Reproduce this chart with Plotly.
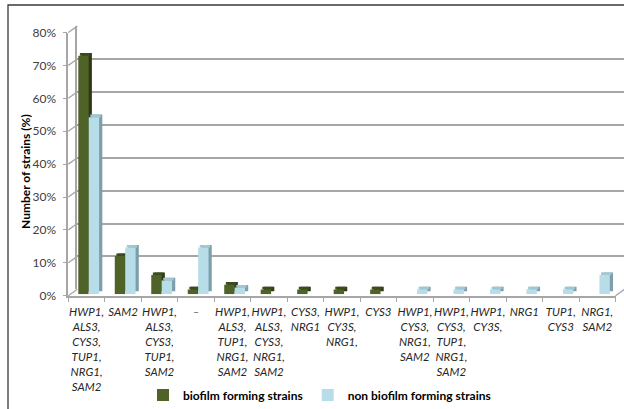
import plotly.graph_objects as go

# ---------------- data ----------------
categories = [
    "HWP1,<br>ALS3,<br>CYS3,<br>TUP1,<br>NRG1,<br>SAM2",
    "SAM2",
    "HWP1,<br>ALS3,<br>CYS3,<br>TUP1,<br>SAM2",
    "–",
    "HWP1,<br>ALS3,<br>TUP1,<br>NRG1,<br>SAM2",
    "HWP1,<br>ALS3,<br>CYS3,<br>NRG1,<br>SAM2",
    "CYS3,<br>NRG1",
    "HWP1,<br>CY3S,<br>NRG1,",
    "CYS3",
    "HWP1,<br>CYS3,<br>NRG1,<br>SAM2",
    "HWP1,<br>CYS3,<br>TUP1,<br>NRG1,<br>SAM2",
    "HWP1,<br>CY3S,",
    "NRG1",
    "TUP1,<br>CYS3",
    "NRG1,<br>SAM2",
]
biofilm = [72.5, 11.6, 5.8, 1.45, 2.9, 1.45, 1.45, 1.45, 1.45, 0, 0, 0, 0, 0, 0]
non_biofilm = [53.8, 14.2, 4.2, 14.2, 2.0, 0, 0, 0, 0, 1.5, 1.5, 1.5, 1.5, 1.5, 5.8]
y_ticks = [0, 10, 20, 30, 40, 50, 60, 70, 80]
y_ticktext = ["0%", "10%", "20%", "30%", "40%", "50%", "60%", "70%", "80%"]
series_names = ["biofilm forming strains", "non biofilm forming strains"]

# ---------------- styling / geometry (pixels) ----------------
W, H = 624, 409
FONT = "Lato"
GREEN, GREEN_TOP, GREEN_SIDE = "#4F6228", "#3D4C1E", "#2E3A15"
BLUE, BLUE_TOP, BLUE_SIDE = "#B7DEE8", "#A2C7D2", "#7E9FAA"
GRID = "#A6A6A6"

fx0, fx1 = 68.3, 615.5        # front plane x extent
fy0, fy80 = 295.7, 32.5       # front plane y of 0% and 80%
DX, DY = 9.0, 6.4             # back wall offset
BDX, BDY = 3.0, 1.5           # bar plane offset
SDX, SDY = 3.2, 2.6           # bar depth (side/top faces)

def px(x):
    return x / W

def py(y):
    return 1 - y / H

ppu = (fy0 - fy80) / 80.0     # pixels per percent
cat_w = (fx1 - fx0) / len(categories)
bar_w = 10.4 / cat_w
g_off = 7.0 / cat_w - 0.5
b_off = g_off + bar_w
top_h = SDY / ppu

fig = go.Figure()

# front axes (labels) - invisible carrier trace
fig.add_trace(go.Scatter(x=categories, y=[0] * len(categories), mode="markers",
                         marker=dict(opacity=0), showlegend=False, hoverinfo="skip",
                         xaxis="x", yaxis="y"))
# back wall carrier
fig.add_trace(go.Scatter(x=[0, 1], y=[0, 0], mode="markers", marker=dict(opacity=0),
                         showlegend=False, hoverinfo="skip", xaxis="x2", yaxis="y2"))

# depth (side) faces
for vals, off, col in [(biofilm, g_off, GREEN_SIDE), (non_biofilm, b_off, BLUE_SIDE)]:
    fig.add_trace(go.Bar(x=categories, y=vals, width=bar_w, offset=off,
                         marker=dict(color=col, line=dict(width=0)),
                         showlegend=False, hoverinfo="skip", xaxis="x3", yaxis="y3"))

# top faces
for vals, off, col in [(biofilm, g_off, GREEN_TOP), (non_biofilm, b_off, BLUE_TOP)]:
    fig.add_trace(go.Bar(x=categories, y=[top_h if v > 0 else 0 for v in vals], base=vals,
                         width=bar_w, offset=off + (SDX / 2) / cat_w,
                         marker=dict(color=col, line=dict(width=0)),
                         showlegend=False, hoverinfo="skip", xaxis="x4", yaxis="y4"))

# front faces
for vals, off, col, name in [(biofilm, g_off, GREEN, series_names[0]),
                             (non_biofilm, b_off, BLUE, series_names[1])]:
    fig.add_trace(go.Bar(x=categories, y=vals, width=bar_w, offset=off, name=name,
                         marker=dict(color=col, line=dict(width=0)),
                         xaxis="x4", yaxis="y4"))

hidden = dict(visible=False, showgrid=False, zeroline=False, fixedrange=True,
              automargin=False)

fig.update_layout(
    width=W, height=H,
    margin=dict(l=0, r=0, t=0, b=0, autoexpand=False),
    paper_bgcolor="white", plot_bgcolor="rgba(0,0,0,0)",
    barmode="overlay",
    font=dict(family=FONT, color="#404040", size=12),
    xaxis=dict(domain=[px(fx0), px(fx1)], anchor="y", type="category",
               categoryorder="array", categoryarray=categories,
               range=[-0.5, len(categories) - 0.5], automargin=False,
               tickson="boundaries", ticks="outside", ticklen=5, tickcolor=GRID,
               tickwidth=1.3, showline=True, linecolor=GRID, linewidth=1.5,
               showgrid=False, zeroline=False, tickangle=0, ticklabelstandoff=5,
               tickfont=dict(family=FONT, size=11.5, color="#262626", style="italic")),
    yaxis=dict(domain=[py(fy0), py(fy80)], anchor="x", range=[0, 80], automargin=False,
               tickvals=y_ticks, ticktext=y_ticktext, ticks="outside", ticklen=4,
               tickcolor=GRID, tickwidth=1.3, showline=True, linecolor=GRID,
               linewidth=1.5, showgrid=False, zeroline=False,
               ticklabelstandoff=4,
               tickfont=dict(family=FONT, size=12, color="#404040")),
    xaxis2=dict(domain=[px(fx0 + DX), 1], anchor="y2", range=[0, 1], showgrid=False,
                zeroline=False, showticklabels=False, showline=False, fixedrange=True,
                automargin=False),
    yaxis2=dict(domain=[py(fy0 - DY), py(fy80 - DY)], anchor="x2", range=[0, 80],
                tickvals=y_ticks, showticklabels=False, showgrid=True, gridcolor=GRID,
                gridwidth=1.5, showline=True, linecolor=GRID, linewidth=1.5,
                zeroline=False, fixedrange=True, automargin=False),
    xaxis3=dict(domain=[px(fx0 + BDX + SDX), px(fx1 + BDX + SDX)], anchor="y3",
                type="category", categoryorder="array", categoryarray=categories,
                range=[-0.5, len(categories) - 0.5], **hidden),
    yaxis3=dict(domain=[py(fy0 - BDY - SDY), py(fy80 - BDY - SDY)], anchor="x3",
                range=[0, 80], **hidden),
    xaxis4=dict(domain=[px(fx0 + BDX), px(fx1 + BDX)], anchor="y4",
                type="category", categoryorder="array", categoryarray=categories,
                range=[-0.5, len(categories) - 0.5], **hidden),
    yaxis4=dict(domain=[py(fy0 - BDY), py(fy80 - BDY)], anchor="x4",
                range=[0, 80], **hidden),
    legend=dict(orientation="h", x=px(143), xanchor="left", y=py(395), yanchor="middle",
                font=dict(family=FONT, size=12, color="#000000", weight="bold"),
                bgcolor="rgba(0,0,0,0)", itemwidth=30, tracegroupgap=0),
    showlegend=True,
)

shapes = []
# diagonal connectors between front axis and back wall
for v in y_ticks:
    yf = fy0 - v * ppu
    shapes.append(dict(type="line", xref="paper", yref="paper",
                       x0=px(fx0), y0=py(yf), x1=px(fx0 + DX), y1=py(yf - DY),
                       line=dict(color=GRID, width=1.3), layer="below"))
# right floor diagonal
shapes.append(dict(type="line", xref="paper", yref="paper",
                   x0=px(fx1), y0=py(fy0), x1=px(fx1 + DX), y1=py(fy0 - DY),
                   line=dict(color=GRID, width=1.3), layer="below"))
# outer frame
shapes.append(dict(type="rect", xref="paper", yref="paper",
                   x0=px(8), y0=py(5), x1=px(W + 10), y1=py(H + 10),
                   line=dict(color="#3A3A3A", width=1.3), fillcolor="rgba(0,0,0,0)",
                   layer="above"))
fig.update_layout(shapes=shapes)

fig.add_annotation(text="<b>Number of strains (%)</b>", xref="paper", yref="paper",
                   x=px(26), y=py(172), xanchor="center", yanchor="middle",
                   textangle=-90, showarrow=False,
                   font=dict(family=FONT, size=12, color="#000000"))

fig.write_html("out.html")
